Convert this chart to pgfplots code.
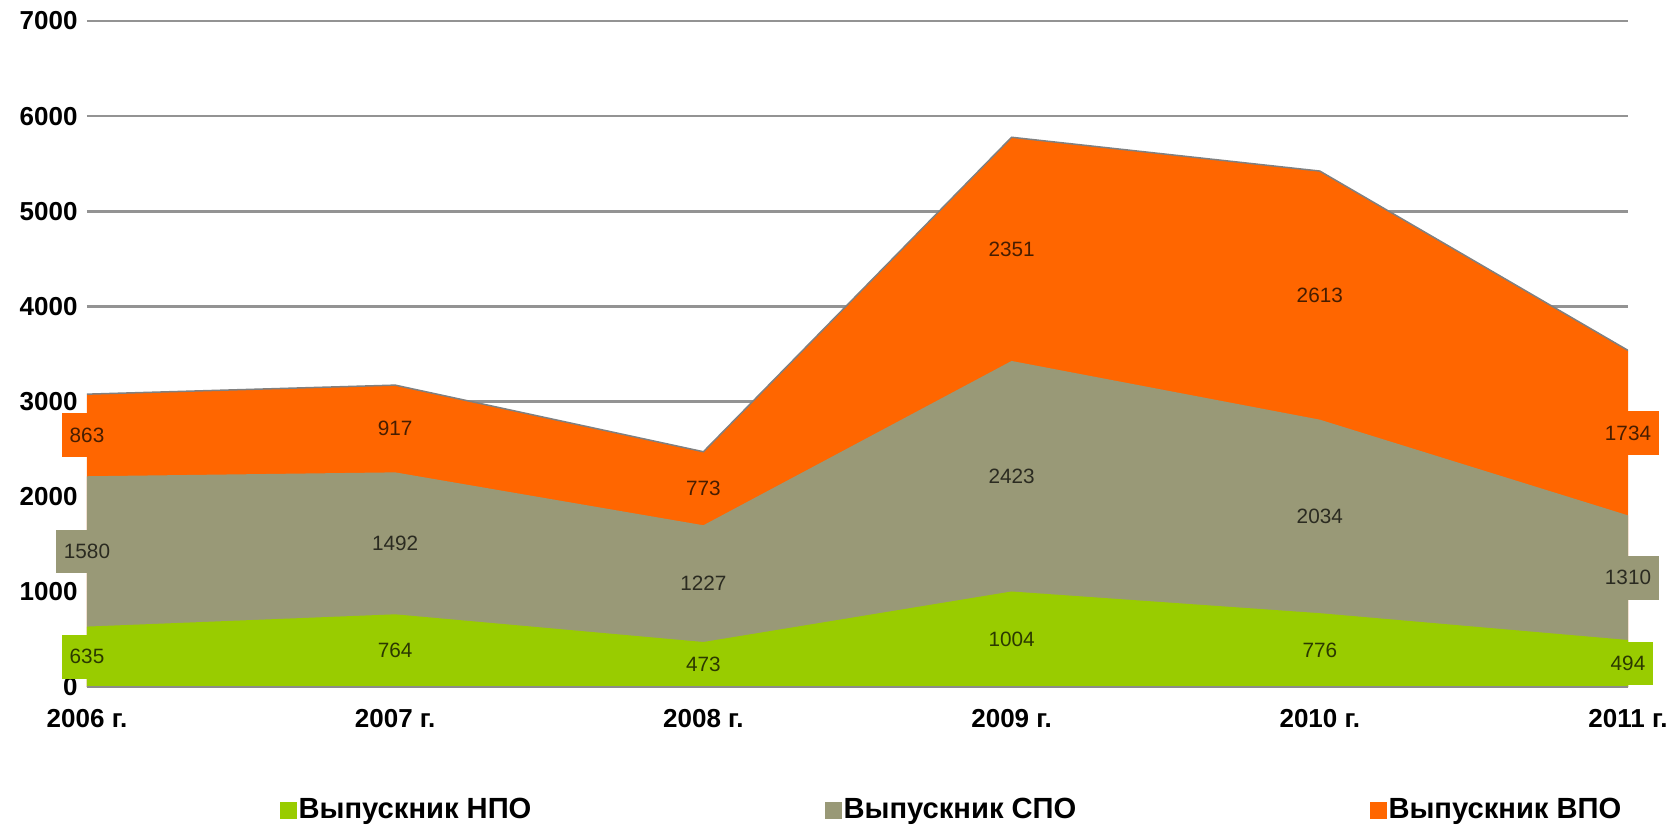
\documentclass[border=0pt]{standalone}
\usepackage{pgfplots}
\pgfplotsset{compat=1.18}
\usepackage{pgfplotstable}
\usepackage{fontspec}
\setmainfont{Liberation Sans}

\definecolor{cnpo}{RGB}{153,204,0}
\definecolor{cspo}{RGB}{153,153,119}
\definecolor{cvpo}{RGB}{255,102,0}

% graduates by year: NPO, SPO, VPO
\pgfplotstableread{
x npo spo vpo
0 635 1580 863
1 764 1492 917
2 473 1227 773
3 1004 2423 2351
4 776 2034 2613
5 494 1310 1734
}\data
% running sums for the stacked areas and label positions
\pgfplotstablecreatecol[expr={\thisrow{npo}+\thisrow{spo}}]{c2}\data
\pgfplotstablecreatecol[expr={\thisrow{c2}+\thisrow{vpo}}]{c3}\data
\pgfplotstablecreatecol[expr={\thisrow{npo}/2}]{m1}\data
\pgfplotstablecreatecol[expr={\thisrow{npo}+\thisrow{spo}/2}]{m2}\data
\pgfplotstablecreatecol[expr={\thisrow{c2}+\thisrow{vpo}/2}]{m3}\data

\pgfplotsset{
  lbl/.style={draw=none, nodes near coords, point meta=explicit symbolic,
    every node near coord/.style={anchor=center, font=\fontsize{5.9}{7}\selectfont,
      fill=#1, text=black!72!#1, inner xsep=0.8mm, inner ysep=1.45mm}},
  sq/.style={legend image code/.code={
      \path[draw=none, fill=none] (0mm,-0.85mm) rectangle (1.7mm,0.85mm);
      \fill[#1, draw=none, overlay] (0.55mm,-0.85mm) rectangle (2.25mm,0.85mm);}},
}

\begin{document}
\begin{tikzpicture}
\useasboundingbox (-8.7mm,-14.1mm) rectangle (158.2mm,68.7mm);
\clip (-8.7mm,-14.1mm) rectangle (158.2mm,68.7mm);
\begin{axis}[
    scale only axis,
    width=154.1mm, height=66.6mm,
    xmin=0, xmax=5, ymin=0, ymax=7000,
    xtick={0,...,5},
    xticklabels={2006 г.,2007 г.,2008 г.,2009 г.,2010 г.,2011 г.},
    ytick={0,1000,...,7000},
    ymajorgrids,
    grid style={gray!85, line width=0.25mm},
    axis line style={draw=none},
    major tick length=0pt,
    yticklabel style={font=\fontsize{7.4}{8}\selectfont\bfseries, xshift=0.3mm},
    xticklabel style={font=\fontsize{7.4}{8}\selectfont\bfseries, yshift=-1.0mm},
    /pgf/number format/assume math mode=true,
    /pgf/number format/1000 sep={},
    scaled y ticks=false,
    legend columns=3,
    legend style={at={(0.561,-0.186)}, anchor=center, draw=none, fill=none,
      font=\fontsize{8.3}{9}\selectfont\bfseries,
      /tikz/every even column/.append style={column sep=28.1mm},
      /tikz/every odd column/.append style={column sep=0mm}},
  ]
  \addlegendimage{sq=cnpo}
  \addlegendentry{Выпускник НПО}
  \addlegendimage{sq=cspo}
  \addlegendentry{Выпускник СПО}
  \addlegendimage{sq=cvpo}
  \addlegendentry{Выпускник ВПО}

  % areas, drawn from the total down
  \addplot[fill=cvpo, draw=none, forget plot] table[x=x, y=c3] {\data} \closedcycle;
  \addplot[fill=cspo, draw=none, forget plot] table[x=x, y=c2] {\data} \closedcycle;
  \addplot[fill=cnpo, draw=none, forget plot] table[x=x, y=npo] {\data} \closedcycle;
  \addplot[black!50, line width=0.15mm, forget plot] table[x=x, y=c3] {\data};
  \addplot[black!45, line width=0.12mm, forget plot] table[x=x, y expr=0] {\data};

  % value labels in the middle of each band
  \addplot[lbl=cnpo, forget plot] table[x=x, y=m1, meta=npo] {\data};
  \addplot[lbl=cspo, forget plot] table[x=x, y=m2, meta=spo] {\data};
  \addplot[lbl=cvpo, forget plot] table[x=x, y=m3, meta=vpo] {\data};
\end{axis}
\end{tikzpicture}
\end{document}
